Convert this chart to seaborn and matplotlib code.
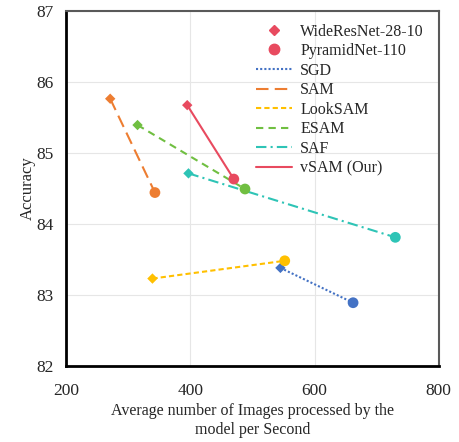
import pandas as pd
import matplotlib
matplotlib.use("Agg")
import matplotlib.pyplot as plt
from matplotlib.lines import Line2D
import seaborn as sns

# Throughput (images/s) vs accuracy, WideResNet-28-10 (diamond) -> PyramidNet-110 (circle)
methods = ['SGD', 'SAM', 'LookSAM', 'ESAM', 'SAF', 'vSAM (Our)']
wrn_speed = [545, 271, 339, 315, 397, 395]
wrn_acc = [83.38, 85.76, 83.23, 85.39, 84.71, 85.67]
pyr_speed = [662, 343, 552, 488, 730, 470]
pyr_acc = [82.89, 84.44, 83.48, 84.49, 83.81, 84.63]
models = ['WideResNet-28-10', 'PyramidNet-110']

colors = {'SGD': '#4472C4', 'SAM': '#ED7D31', 'LookSAM': '#FFC000',
          'ESAM': '#70BF41', 'SAF': '#2EC4B6', 'vSAM (Our)': '#E84A5F'}
dashes = {'SGD': (1, 1), 'SAM': (6, 3), 'LookSAM': (2.5, 1.5),
          'ESAM': (3.5, 2.5), 'SAF': (5, 2, 1, 2), 'vSAM (Our)': ''}

rows = []
for i, m in enumerate(methods):
    rows.append({'Method': m, 'Model': models[0], 'Speed': wrn_speed[i], 'Accuracy': wrn_acc[i]})
    rows.append({'Method': m, 'Model': models[1], 'Speed': pyr_speed[i], 'Accuracy': pyr_acc[i]})
df = pd.DataFrame(rows)

sns.set_style('whitegrid', {'grid.color': '#e6e6e6'})
plt.rcParams['font.family'] = ['Liberation Serif', 'DejaVu Serif']

fig = plt.figure(figsize=(4.59, 4.42), dpi=100)
ax = fig.add_axes([0.144, 0.172, 0.812, 0.804])

sns.lineplot(data=df, x='Speed', y='Accuracy', hue='Method', style='Method',
             palette=colors, dashes=dashes, sort=False, linewidth=1.5,
             legend=False, ax=ax)
sns.scatterplot(data=df, x='Speed', y='Accuracy', hue='Method', style='Model',
                palette=colors, markers={models[0]: 'D', models[1]: 'o'},
                size='Model', sizes={models[0]: 28, models[1]: 60},
                linewidth=0, legend=False, ax=ax, zorder=3)

ax.set_xlim(200, 800)
ax.set_ylim(82, 87)
ax.set_xticks([200, 400, 600, 800])
ax.set_yticks([82, 83, 84, 85, 86, 87])
ax.tick_params(axis='both', labelsize=12.5, length=0)
ax.tick_params(axis='x', pad=12)
ax.tick_params(axis='y', pad=9)
ax.set_xlabel('Average number of Images processed by the\nmodel per Second',
              fontsize=11.5, linespacing=1.3, labelpad=3)
ax.set_ylabel('Accuracy', fontsize=12, labelpad=0)

for side in ['left', 'bottom']:
    ax.spines[side].set_color('black')
    ax.spines[side].set_linewidth(2)
for side in ['top', 'right']:
    ax.spines[side].set_color('#595959')
    ax.spines[side].set_linewidth(1.5)

handles = [
    Line2D([], [], color=colors['vSAM (Our)'], marker='D', linestyle='none', markersize=5),
    Line2D([], [], color=colors['vSAM (Our)'], marker='o', linestyle='none', markersize=7.5),
]
for m in methods:
    ls = '-' if m == 'vSAM (Our)' else (0, dashes[m])
    handles.append(Line2D([], [], color=colors[m], linestyle=ls, linewidth=1.5))
labels = models + methods
ax.legend(handles, labels, loc='upper right', frameon=False, fontsize=11.5,
          handlelength=2.3, handletextpad=0.5, labelspacing=0.22,
          borderaxespad=0.3, bbox_to_anchor=(0.99, 0.995))

fig.savefig('out.png', dpi=100)
